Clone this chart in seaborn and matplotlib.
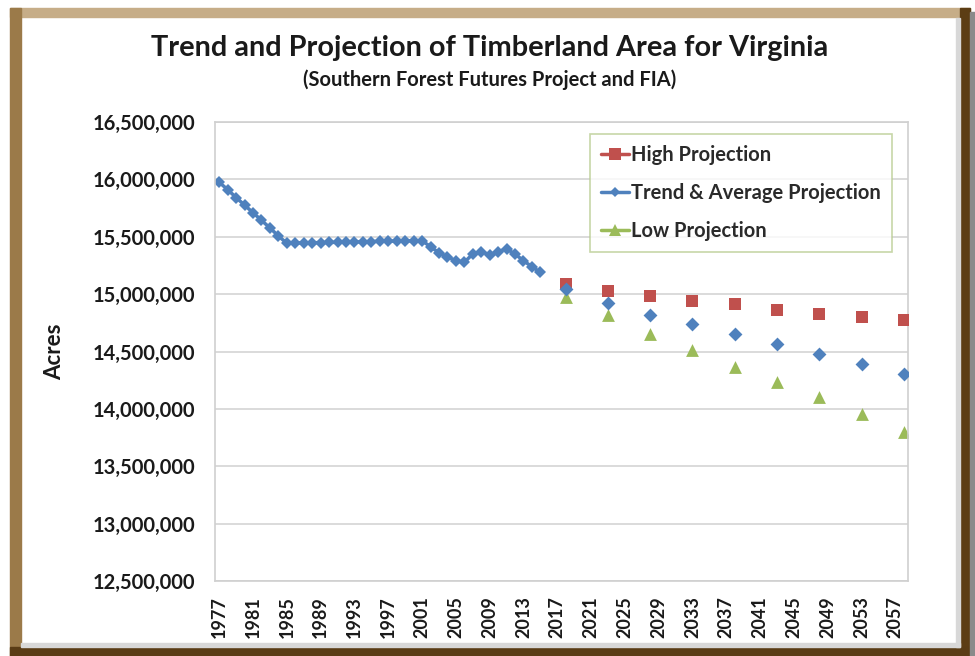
import matplotlib
matplotlib.use('Agg')
import matplotlib.pyplot as plt
from matplotlib.lines import Line2D
from matplotlib.patches import Rectangle
from matplotlib.ticker import FuncFormatter
import pandas as pd
import seaborn as sns

# data (acres)
trend_years = list(range(1977, 2016))
trend_acres = [15975000, 15910000, 15842000, 15775000, 15710000, 15643000, 15577000, 15507000,
               15443000, 15446000, 15447000, 15448000, 15449000, 15450000, 15452000, 15453000,
               15455000, 15456000, 15458000, 15460000, 15461000, 15463000, 15464000, 15465000,
               15466000, 15413000, 15361000, 15326000, 15291000, 15277000, 15350000, 15370000,
               15341000, 15370000, 15393000, 15350000, 15291000, 15239000, 15190000]

proj_years = [2018, 2023, 2028, 2033, 2038, 2043, 2048, 2053, 2058]
high_proj = [15086000, 15027000, 14984000, 14940000, 14911000, 14862000, 14827000, 14801000, 14774000]
avg_proj = [15042000, 14925000, 14818000, 14737000, 14650000, 14563000, 14476000, 14388000, 14301000]
low_proj = [14978000, 14818000, 14650000, 14513000, 14368000, 14232000, 14100000, 13955000, 13801000]

tick_years = list(range(1977, 2058, 4))

RED = '#c0504d'
BLUE = '#4f81bd'
GREEN = '#9bbb59'

sns.set_style('white')
plt.rcParams['font.family'] = ['Lato', 'DejaVu Sans']

fig = plt.figure(figsize=(9.75, 6.56), dpi=100)
W, H = 975.0, 656.0

# picture frame
def band(x0, y0, x1, y1, color):
    fig.patches.append(Rectangle((x0 / W, 1 - y1 / H), (x1 - x0) / W, (y1 - y0) / H,
                                 transform=fig.transFigure, color=color, zorder=0))

band(10, 8, 970, 17, '#c6ad88')
band(10, 8, 21, 656, '#9b7a49')
band(960, 8, 970, 656, '#5c3d14')
band(10, 647, 970, 656, '#5a3c15')
band(970, 12, 975, 656, '#8a8a8a')
band(956, 18, 960, 647, '#d8d8d8')
band(21, 643, 960, 647, '#d8d8d8')

ax = fig.add_axes([215 / W, 1 - 581 / H, (908 - 215) / W, (581 - 122) / H])

trend_df = pd.DataFrame({'year': trend_years, 'acres': trend_acres})
proj_df = pd.DataFrame({'year': proj_years, 'high': high_proj, 'avg': avg_proj, 'low': low_proj})

sns.lineplot(data=trend_df, x='year', y='acres', ax=ax, color=BLUE, linewidth=2.5,
             marker='D', markersize=6.5, markeredgewidth=0)
sns.scatterplot(data=proj_df, x='year', y='high', ax=ax, color=RED, marker='s', s=80,
                linewidth=0, zorder=3)
sns.scatterplot(data=proj_df, x='year', y='avg', ax=ax, color=BLUE, marker='D', s=50,
                linewidth=0, zorder=4)
sns.scatterplot(data=proj_df, x='year', y='low', ax=ax, color=GREEN, marker='^', s=85,
                linewidth=0, zorder=2)

ax.set_xlim(1976.5, 2058.5)
ax.set_ylim(12500000, 16500000)
ax.set_yticks(range(12500000, 16500001, 500000))
ax.yaxis.set_major_formatter(FuncFormatter(lambda v, p: f'{v:,.0f}'))
ax.set_xticks(tick_years)
ax.set_xticklabels([str(y) for y in tick_years], rotation=90)
ax.tick_params(axis='both', length=0)
ax.tick_params(axis='y', pad=14, labelsize=14.5)
ax.tick_params(axis='x', pad=11, labelsize=13)
for lab in ax.get_xticklabels() + ax.get_yticklabels():
    lab.set_fontweight('bold')
    lab.set_color('#1a1a1a')

ax.grid(axis='y', color='#d4d4d4', linewidth=1.2)
ax.set_axisbelow(True)
for sp in ax.spines.values():
    sp.set_color('#d0d0d0')
    sp.set_linewidth(1.2)

ax.set_xlabel('')
ax.set_ylabel('Acres', fontsize=16, fontweight='bold', color='#1a1a1a')
ax.yaxis.set_label_coords((65 - 215) / 693, 0.5)

fig.text(490 / W, 1 - 48 / H, 'Trend and Projection of Timberland Area for Virginia',
         ha='center', va='center', fontsize=20.8, fontweight='bold', color='#1a1a1a')
fig.text(490 / W, 1 - 80 / H, '(Southern Forest Futures Project and FIA)',
         ha='center', va='center', fontsize=14.5, fontweight='bold', color='#1a1a1a')

handles = [
    Line2D([], [], color=RED, marker='s', markersize=8, linewidth=2.5, markeredgewidth=0),
    Line2D([], [], color=BLUE, marker='D', markersize=5.5, linewidth=2.5, markeredgewidth=0),
    Line2D([], [], color=GREEN, marker='^', markersize=8, linewidth=2.5, markeredgewidth=0),
]
labels = ['High Projection', 'Trend & Average Projection', 'Low Projection']
leg = ax.legend(handles, labels, loc='upper left', bbox_to_anchor=(590 / W, 1 - 134 / H),
                bbox_transform=fig.transFigure, frameon=True, fancybox=False,
                handlelength=1.4, handletextpad=0.1, labelspacing=0.9,
                borderpad=0.55, borderaxespad=0, prop={'size': 14.5, 'weight': 'bold'})
leg.get_frame().set_edgecolor('#b9cc92')
leg.get_frame().set_linewidth(1.2)
for t in leg.get_texts():
    t.set_color('#2a2a2a')

fig.savefig('out.png', dpi=100)
